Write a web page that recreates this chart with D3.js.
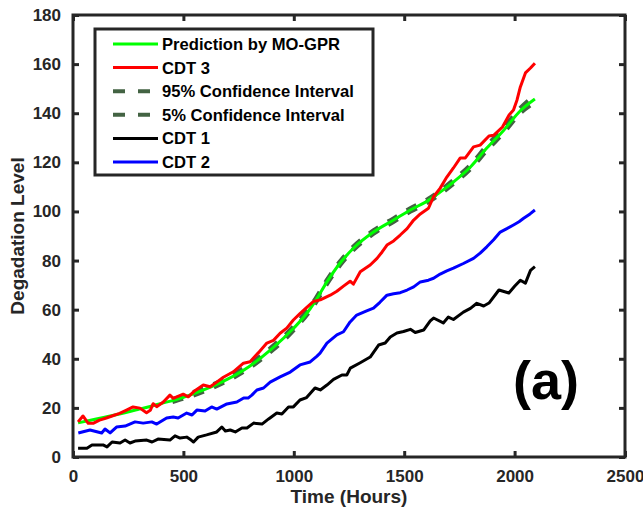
<!DOCTYPE html>
<html>
<head>
<meta charset="utf-8">
<script src="https://cdn.jsdelivr.net/npm/d3@7"></script>
<style>
  body { margin: 0; background: #fff; }
  text { font-family: "Liberation Sans", Arial, sans-serif; font-weight: bold; }
</style>
</head>
<body>
<div id="chart"></div>
<script>
// values, [time, level]
var cdt1 = [[23,3.6],[63,3.6],[86,4.9],[136,4.9],[154,4.1],[177,6.1],[213,5.7],[236,6.9],[258,5.7],[281,6.5],
  [334,6.9],[358,6.1],[385,7.3],[439,6.9],[462,8.6],[485,7.7],[515,8.1],[535,6.9],[546,6.1],[567,8.1],
  [605,9.0],[651,10.2],[674,12.2],[690,10.6],[712,11.0],[735,10.2],[765,11.8],[788,11.8],[818,13.8],[856,13.4],
  [886,15.5],[923,17.9],[946,17.5],[976,20.4],[998,20.4],[1028,23.2],[1058,24.2],[1096,28.1],[1120,27.3],[1150,29.3],
  [1180,31.6],[1218,33.4],[1240,33.4],[1256,36.2],[1301,38.4],[1346,40.7],[1384,45.6],[1414,46.4],[1437,48.9],[1467,50.5],
  [1497,51.1],[1528,52.0],[1550,50.7],[1588,51.7],[1618,55.4],[1633,56.6],[1677,54.6],[1700,57.0],[1723,56.0],[1768,59.0],
  [1800,60.5],[1829,62.6],[1860,61.5],[1884,62.7],[1929,68.0],[1974,66.8],[2000,69.5],[2026,72.0],[2049,70.8],[2072,76.0],[2092,77.5]];

var cdt2 = [[24,9.8],[77,11.0],[130,9.8],[145,11.4],[168,9.8],[197,12.2],[236,12.6],[281,14.3],[318,13.8],[357,14.3],
  [379,13.4],[424,15.9],[454,16.3],[476,15.9],[515,17.9],[539,17.1],[561,19.1],[598,18.7],[628,20.4],[651,19.5],
  [697,21.6],[742,22.4],[773,24.0],[793,24.0],[810,25.2],[833,27.3],[863,28.1],[893,30.5],[938,32.6],[984,34.6],
  [1028,37.5],[1074,38.7],[1104,41.0],[1119,42.3],[1150,46.4],[1195,49.7],[1225,51.0],[1255,55.0],[1285,57.8],[1330,59.5],
  [1361,60.6],[1390,63.0],[1422,65.9],[1452,66.5],[1482,66.9],[1513,68.0],[1543,69.3],[1573,71.3],[1610,72.0],[1633,72.8],
  [1663,74.5],[1693,75.8],[1723,76.9],[1768,78.8],[1814,80.9],[1844,83.0],[1874,85.6],[1905,88.5],[1935,91.6],[1965,93.0],
  [1995,94.5],[2020,95.8],[2041,97.2],[2070,99.0],[2092,100.6]];

var cdt3 = [[23,14.3],[45,16.7],[69,13.7],[91,13.7],[120,15.0],[151,15.9],[180,16.8],[211,17.8],[240,19.0],[272,20.4],
  [303,19.9],[333,18.0],[350,19.0],[363,21.7],[379,20.5],[409,22.4],[439,25.2],[454,23.9],[499,25.6],[522,24.5],
  [552,27.0],[590,29.3],[621,28.6],[651,30.5],[681,32.5],[726,34.7],[772,38.2],[802,38.8],[840,42.5],[878,46.4],
  [908,47.5],[938,50.4],[968,52.5],[998,55.8],[1029,58.5],[1060,61.0],[1088,63.3],[1120,64.0],[1165,65.9],[1195,67.5],
  [1225,69.6],[1255,71.6],[1270,70.4],[1301,75.4],[1346,78.2],[1377,80.9],[1400,83.5],[1422,86.3],[1452,88.0],[1482,90.4],
  [1513,93.0],[1543,96.5],[1573,99.0],[1610,101.3],[1633,106.0],[1663,109.5],[1693,114.0],[1723,117.7],[1754,121.8],[1777,121.8],
  [1814,126.3],[1844,127.0],[1884,130.7],[1905,131.0],[1945,134.4],[1975,139.3],[1995,141.3],[2011,145.4],[2026,150.7],[2049,156.4],
  [2072,158.4],[2092,160.4]];

var prediction = [[23,13.9],[100,15.4],[200,17.3],[300,19.5],[400,21.8],[500,24.3],[600,27.6],[700,31.7],[800,37.0],
  [900,44.0],[1000,52.5],[1050,57.5],[1100,63.8],[1150,71.3],[1210,79.0],[1270,85.0],[1361,91.6],[1452,96.5],[1528,100.6],
  [1610,104.5],[1680,109.0],[1723,112.0],[1799,118.0],[1874,125.8],[1950,133.0],[2026,141.0],[2092,145.8]];

var ci95 = [[450,23.4],[500,24.8],[600,28.1],[700,32.2],[800,37.6],[900,44.6],[1000,53.1],[1100,64.4],[1150,71.8],
  [1210,79.5],[1270,85.5],[1361,92.1],[1452,97.0],[1528,101.1],[1610,105.0],[1723,112.6],[1799,118.7],[1874,126.5],
  [1950,133.8],[2026,141.9],[2092,147.2]];

var ci5 = [[450,22.6],[500,23.9],[600,27.1],[700,31.2],[800,36.5],[900,43.4],[1000,51.9],[1100,63.2],[1150,70.7],
  [1210,78.4],[1270,84.5],[1361,91.1],[1452,96.0],[1528,100.1],[1610,104.0],[1723,111.4],[1799,117.4],[1874,125.0],
  [1950,132.2],[2026,140.2],[2092,144.6]];

var xTicks = [0, 500, 1000, 1500, 2000, 2500];
var yTicks = [0, 20, 40, 60, 80, 100, 120, 140, 160, 180];
var legendNames = ['Prediction by MO-GPR', 'CDT 3', '95% Confidence Interval', '5% Confidence Interval', 'CDT 1', 'CDT 2'];

var width = 643;
var height = 510;
var plotL = 73, plotR = 625, plotT = 15, plotB = 457;
var axisColor = '#262626';
var ciColor = '#436343';

var svg = d3.select('#chart')
    .append('svg')
    .attr('width', width)
    .attr('height', height);

var x = d3.scaleLinear().domain([0, 2500]).range([plotL, plotR]);
var y = d3.scaleLinear().domain([0, 180]).range([plotB, plotT]);

var line = d3.line()
    .x((d) => x(d[0]))
    .y((d) => y(d[1]));
var smooth = d3.line()
    .x((d) => x(d[0]))
    .y((d) => y(d[1]))
    .curve(d3.curveMonotoneX);

// series, dashed intervals underneath the prediction
var series = [
    {data: ci95, color: ciColor, w: 5, dash: '11,11', path: smooth},
    {data: ci5, color: ciColor, w: 5, dash: '11,11', path: smooth},
    {data: prediction, color: '#00ff00', w: 3, dash: null, path: smooth},
    {data: cdt3, color: '#ff0000', w: 3, dash: null, path: line},
    {data: cdt1, color: '#000000', w: 3, dash: null, path: line},
    {data: cdt2, color: '#0000ff', w: 3, dash: null, path: line}
];

svg.append('g')
    .selectAll('path')
    .data(series)
    .enter()
    .append('path')
    .attr('d', (d) => d.path(d.data))
    .attr('fill', 'none')
    .attr('stroke', (d) => d.color)
    .attr('stroke-width', (d) => d.w)
    .attr('stroke-dasharray', (d) => d.dash)
    .attr('stroke-linejoin', 'round');

// axes: box with inward ticks
var fmt = d3.format('d');
var xAxisB = d3.axisBottom(x).tickValues(xTicks).tickSizeInner(-6).tickSizeOuter(0).tickPadding(13).tickFormat(fmt);
var xAxisT = d3.axisTop(x).tickValues(xTicks).tickSizeInner(-6).tickSizeOuter(0).tickFormat('');
var yAxisL = d3.axisLeft(y).tickValues(yTicks).tickSizeInner(-6).tickSizeOuter(0).tickPadding(12).tickFormat(fmt);
var yAxisR = d3.axisRight(y).tickValues(yTicks).tickSizeInner(-6).tickSizeOuter(0).tickFormat('');

var gxb = svg.append('g').attr('transform', 'translate(0,' + plotB + ')').call(xAxisB);
var gxt = svg.append('g').attr('transform', 'translate(0,' + plotT + ')').call(xAxisT);
var gyl = svg.append('g').attr('transform', 'translate(' + plotL + ',0)').call(yAxisL);
var gyr = svg.append('g').attr('transform', 'translate(' + plotR + ',0)').call(yAxisR);

[gxb, gxt, gyl, gyr].forEach((g) => {
    g.select('.domain').remove();
    g.selectAll('line').attr('stroke', axisColor).attr('stroke-width', 3);
    g.selectAll('text')
        .attr('fill', axisColor)
        .attr('font-size', 17)
        .attr('font-family', '"Liberation Sans", Arial, sans-serif')
        .attr('font-weight', 'bold');
});

svg.append('rect')
    .attr('x', plotL)
    .attr('y', plotT)
    .attr('width', plotR - plotL)
    .attr('height', plotB - plotT)
    .attr('fill', 'none')
    .attr('stroke', axisColor)
    .attr('stroke-width', 3);

// axis titles
svg.append('text')
    .attr('x', (plotL + plotR) / 2)
    .attr('y', 503)
    .attr('text-anchor', 'middle')
    .attr('font-size', 19)
    .attr('fill', axisColor)
    .text('Time (Hours)');

svg.append('text')
    .attr('transform', 'translate(24,' + (plotT + plotB) / 2 + ') rotate(-90)')
    .attr('text-anchor', 'middle')
    .attr('font-size', 19)
    .attr('fill', axisColor)
    .text('Degadation Level');

// panel label
svg.append('text')
    .attr('x', 513)
    .attr('y', 399)
    .attr('font-size', 54)
    .attr('fill', '#000')
    .text('(a)');

// legend
var legendOrder = [series[2], series[3], series[0], series[1], series[4], series[5]];
var legend = svg.append('g');

legend.append('rect')
    .attr('x', 95)
    .attr('y', 29)
    .attr('width', 278)
    .attr('height', 146)
    .attr('fill', '#fff')
    .attr('stroke', axisColor)
    .attr('stroke-width', 3);

var rowY = d3.scaleLinear().domain([0, 5]).range([44, 162]);

var rows = legend.selectAll('g.row')
    .data(legendOrder)
    .enter()
    .append('g')
    .attr('class', 'row')
    .attr('transform', (d, i) => 'translate(0,' + rowY(i) + ')');

rows.append('line')
    .attr('x1', 113)
    .attr('x2', 158)
    .attr('stroke', (d) => d.color)
    .attr('stroke-width', (d) => d.dash ? 4 : 3)
    .attr('stroke-dasharray', (d) => d.dash ? '12,13' : null);

rows.append('text')
    .attr('x', 162)
    .attr('y', 6)
    .attr('font-size', 16.6)
    .attr('fill', '#000')
    .text((d, i) => legendNames[i]);
</script>
</body>
</html>
